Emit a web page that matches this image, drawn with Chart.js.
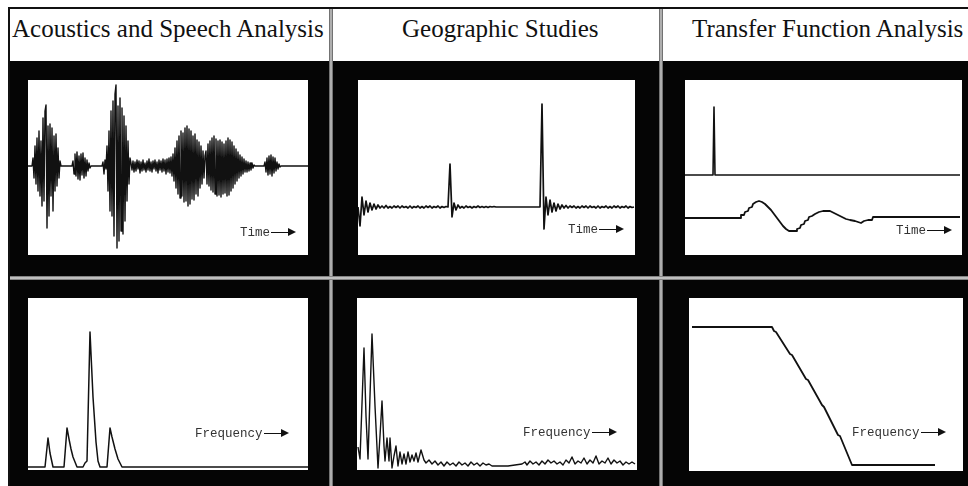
<!DOCTYPE html>
<html>
<head>
<meta charset="utf-8">
<script src="https://cdn.jsdelivr.net/npm/chart.js@4.4.0/dist/chart.umd.min.js"></script>
<style>
  html, body { margin: 0; padding: 0; background: #fff; }
  body { width: 968px; height: 486px; position: relative; overflow: hidden; }
  .abs { position: absolute; }
  .frame { left: 8px; top: 61px; width: 960px; height: 425px; background: #050505; }
  .rule { background: #111; }
  .sep-v { width: 4px; top: 9px; height: 477px; background: linear-gradient(90deg, #555, #ccc, #555); }
  .sep-h { left: 10px; top: 276px; width: 958px; height: 4px; background: linear-gradient(180deg, #666, #ddd, #666); }
  .title { top: 16px; font-family: 'Liberation Serif', 'Times New Roman', serif; font-size: 25px; line-height: 25px; color: #111; white-space: nowrap; }
  canvas { position: absolute; background: #fff; }
  .tag { position: absolute; font-family: 'Liberation Mono', 'Courier New', monospace; font-size: 12.5px; line-height: 14px; color: #333; white-space: nowrap; }
  .tag i { display: inline-block; position: relative; width: 18px; height: 1.5px; background: #111; vertical-align: middle; margin-left: 1px; }
  .tag i::after { content: ''; position: absolute; right: -7px; top: -3.5px; border-left: 8px solid #111; border-top: 4px solid transparent; border-bottom: 4px solid transparent; }
</style>
</head>
<body>
<div class="abs frame"></div>
<div class="abs rule" style="left:8px;top:7px;width:960px;height:2px"></div>
<div class="abs rule" style="left:8px;top:7px;width:2px;height:479px"></div>
<div class="abs sep-v" style="left:329px"></div>
<div class="abs sep-v" style="left:659px"></div>
<div class="abs sep-h"></div>

<div class="abs title" style="left:12px">Acoustics and Speech Analysis</div>
<div class="abs title" style="left:402px">Geographic Studies</div>
<div class="abs title" style="left:692px">Transfer Function Analysis</div>

<canvas id="speechWave" width="280" height="175" style="left:28px;top:80px"></canvas>
<canvas id="geoWave" width="277" height="175" style="left:358px;top:80px"></canvas>
<canvas id="tfWave" width="277" height="175" style="left:685px;top:80px"></canvas>
<canvas id="speechSpec" width="280" height="172" style="left:28px;top:298px"></canvas>
<canvas id="geoSpec" width="280" height="172" style="left:357px;top:298px"></canvas>
<canvas id="tfSpec" width="274" height="173" style="left:689px;top:298px"></canvas>

<div class="tag" style="left:240px;top:226px">Time<i></i></div>
<div class="tag" style="left:568px;top:223px">Time<i></i></div>
<div class="tag" style="left:896px;top:224px">Time<i></i></div>
<div class="tag" style="left:195px;top:427px">Frequency<i></i></div>
<div class="tag" style="left:523px;top:426px">Frequency<i></i></div>
<div class="tag" style="left:852px;top:426px">Frequency<i></i></div>

<script>
// speech waveform, one sample per step, amplitude up = positive
const speechStep = 1;
const speechAmp = [
  0, 0, 0, 0, 0,
  8, -12, 20, -18, 28, -25, 35, -30, 25, -40,
  48, -35, 55, 61, -62, 40, -50, 42, -30, 38,
  -45, 30, -25, 32, -20, 18, -12, 5,
  0, 0, 0, 0, 0, 0, 0, 0, 0, 0, 0, 0,
  5, -8, 12, -10, 14, -13, 10, -14, 12, -9, 13, -12, 8, -10, 6, -5, 3, -2,
  0, 0, 0, 0, 0, 0, 0, 0, 0, 0, 0, 0,
  4, -8, 6, -3,
  20, -25, 35, -45, 55, -50, 65, -70, 72, 81,
  -82, 60, -75, 68, -65, 58, -68, 50, -55, 40,
  -35, 25, -18, 8,
  3, -4, 5, -6, 4, -5, 6, -3, 5, -7, 4, -5, 6, -4, 3, -6, 5, -4, 7, -5,
  4, -6, 5, -3, 6, -5, 4, -7, 6, -4, 5, -6, 7, -5, 6, -8, 7, -6, 8, -7, 9,
  -10, 12, -15, 18, -22, 25, -28, 30, -32, 35, -30, 33, -36, 38, -35, 40, -40,
  37, -38, 35, -33, 30, -34, 32, -28, 26, -30, 24, -22, 20, -18, 15, -12, 10,
  15, -18, 22, -20, 25, -24, 28, -26, 30, -28, 27, -30, 25, -29, 26, -31, 24, -28, 22, -27,
  25, -30, 28, -29, 26, -25, 24, -22, 20, -18, 17, -15, 14, -12, 11, -10, 9, -8, 7, -6,
  5, -6, 4, -5, 3, -4, 3, -2, 1, 0,
  0, 0, 0, 0, 0, 0, 0, 0, 0,
  4, -6, 8, -9, 10, -8, 11, -10, 9, -7, 8, -5, 4, -3, 2, -1,
  0, 0, 0, 0, 0, 0, 0, 0, 0, 0, 0, 0, 0, 0,
  0, 0, 0, 0, 0, 0, 0, 0, 0, 0, 0, 0, 0, 0,
];

// seismic record, two time units per sample
const geoStep = 2;
const geoAmp = [
  0, -19, 10, -8, 6, -5, 4, -3, 3, -2, 2,
  -1, 1, -1, 1.5, -1, 0.5, -1, 1, -0.5, 1, -1, 1, -0.5, 0.5, -1, 1, -1, 0.5, -0.5, 1,
  -1, 0.5, -1, 1, -0.5, 1, -1, 0.5, -0.5, 1, -1, 0.5, -0.5, 0.5,
  0, 43, -10, 4, -3, 2,
  -1, 0.5, -1, 1, -0.5, 0.5, -1, 0.5, -0.5, 1, -0.5, 0.5, -0.5, 0.5, -0.5, 0.5, 0, 0.5, 0,
  0, 0, 0, 0, 0, 0, 0, 0, 0, 0, 0, 0, 0, 0, 0, 0, 0, 0, 0, 0, 0, 0,
  103, -22, 10, -8, 7, -5, 4, -4, 3, -2,
  2, -1, 1.5, -1, 1, -0.5, 1, -1, 0.5, -1, 1, -0.5, 1, -1, 1, -0.5, 0.5, -1, 1, -1,
  0.5, -0.5, 1, -1, 0.5, -1, 1, -0.5, 1, -1, 0.5, -0.5, 1, -1, 0.5, -0.5, 0,
];

// transfer function: impulse input and system response
const tfImpulseT = [0, 28, 29, 30, 275];
const tfImpulseV = [80, 80, 148, 80, 80];
const tfResponseT = [0, 55, 56, 59, 60, 63, 64, 67, 68, 71, 74, 77, 80, 83, 86, 89, 92, 95, 98, 101,
  104, 111, 112, 115, 116, 119, 120, 123, 124, 127, 130, 134, 138, 145, 149, 153, 157, 161, 165,
  170, 173, 176, 179, 183, 187, 188, 275];
const tfResponseV = [37, 37, 40, 40, 43, 44, 47, 48, 51, 53, 54, 53, 51, 48, 45, 41, 37, 33, 29, 26,
  24, 24, 26, 27, 30, 31, 34, 35, 38, 39, 41, 43, 44, 44, 42, 40, 38, 36, 35,
  34, 33, 32, 34, 35, 35, 38, 38];

// speech spectrum
const speechFreq = [0, 17, 20, 22, 25, 36, 39, 41, 43, 45, 47, 49, 55, 57, 59, 62, 65, 68, 70, 72,
  79, 82, 84, 87, 90, 94, 280];
const speechMag = [0, 0, 29, 14, 0, 0, 39, 28, 18, 10, 5, 0, 0, 4, 6, 135, 70, 25, 6, 0,
  0, 39, 30, 18, 8, 0, 0];

// seismic spectrum
const geoFreq = [1, 3, 7, 9, 11, 13, 15, 18, 21, 23, 25, 27, 28, 30, 32, 33, 35, 37, 39, 41,
  43, 45, 47, 49, 51, 53, 55, 57, 59, 61, 64, 67, 69, 72, 75, 78, 81, 84, 87, 90,
  93, 96, 99, 102, 105, 108, 111, 114, 117, 120, 123, 126, 129, 132, 135, 143, 151, 158, 165, 168,
  170, 173, 176, 179, 182, 185, 188, 191, 194, 197, 200, 203, 206, 209, 212, 215, 218, 221, 224, 227,
  230, 233, 236, 239, 242, 245, 248, 251, 254, 257, 260, 263, 266, 269, 272, 275, 278];
const geoMag = [19, 7, 118, 50, 7, 70, 132, 60, -2, 30, 65, 20, 5, 28, 5, 28, -2, 10, 20, 0,
  14, 2, 12, 2, 14, 4, 11, 5, 13, 4, 16, 6, 3, 6, 2, 5, 1, 4, 0, 4,
  1, 3, 0, 4, 1, 3, 0, 4, 1, 3, 0, 3, 1, 2, 0, 0, 0, 1, 2, 4,
  1, 5, 2, 4, 1, 5, 2, 6, 3, 5, 2, 4, 1, 6, 3, 9, 2, 5, 3, 8,
  2, 6, 3, 10, 2, 5, 3, 8, 2, 6, 3, 5, 1, 4, 2, 4, 2];

// low-pass transfer magnitude
const tfFreq = [3, 83, 85, 87, 101, 103, 117, 119, 133, 135, 149, 151, 163, 246];
const tfMag = [144, 144, 140, 139, 117, 116, 92, 91, 66, 64, 36, 35, 6, 6];

const pairs = (xs, ys) => xs.map((x, i) => ({ x, y: ys[i] }));
const stepped = (step, ys) => ys.map((y, i) => ({ x: i * step, y }));

const makePlot = (id, series, xMax, yMin, yMax) => {
  return new Chart(document.getElementById(id), {
    type: 'line',
    data: {
      datasets: series.map((s) => ({
        data: s.data,
        borderColor: '#111',
        borderWidth: s.width,
        borderJoinStyle: 'round',
        pointRadius: 0,
        tension: 0,
        fill: false,
      })),
    },
    options: {
      responsive: false,
      animation: false,
      events: [],
      layout: { padding: 0 },
      plugins: { legend: { display: false }, tooltip: { enabled: false } },
      scales: {
        x: { type: 'linear', min: 0, max: xMax, display: false },
        y: { min: yMin, max: yMax, display: false },
      },
    },
  });
};

makePlot('speechWave', [{ data: stepped(speechStep, speechAmp), width: 1.4 }], 280, -89, 86);
makePlot('geoWave', [{ data: stepped(geoStep, geoAmp), width: 1.7 }], 277, -48, 127);
makePlot('tfWave', [
  { data: pairs(tfImpulseT, tfImpulseV), width: 1.6 },
  { data: pairs(tfResponseT, tfResponseV), width: 1.8 },
], 277, 0, 175);
makePlot('speechSpec', [{ data: pairs(speechFreq, speechMag), width: 1.5 }], 280, -3, 169);
makePlot('geoSpec', [{ data: pairs(geoFreq, geoMag), width: 1.4 }], 280, -4, 168);
makePlot('tfSpec', [{ data: pairs(tfFreq, tfMag), width: 1.8 }], 274, 0, 173);
</script>
</body>
</html>
